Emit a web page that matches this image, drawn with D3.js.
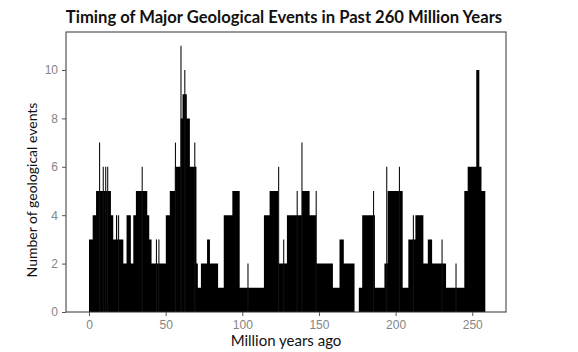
<!DOCTYPE html>
<html>
<head>
<meta charset="utf-8">
<script src="https://cdn.jsdelivr.net/npm/d3@7"></script>
<style>
  html, body { margin: 0; padding: 0; background: #fff; }
  svg { display: block; }
</style>
</head>
<body>
<div id="chart"></div>
<script>
// Step blocks: each block runs from its start age to the next start age
const blockStart = [0, 2.4, 4.6, 14.3, 15.8, 17.6, 18.4, 22.4, 24.5, 27.3, 28.9, 30.6, 38, 39.3, 40.8,
  50.1, 52.7, 56, 59.7, 61, 63.8, 65.8, 70.1, 71, 73, 77, 78.9, 84.2, 87.9, 93.5, 98.3,
  114.1, 117.8, 123.5, 129.1, 138.9, 143.9, 148.2, 159.1, 163.4, 166.2, 173.2, 176, 178.2,
  186.5, 192.7, 194.8, 204.6, 208.3, 212.9, 218.1, 221, 223.8, 232.9, 244.8, 247, 252.6,
  254.6, 256, 258.5];
const blockCount = [3, 4, 5, 4, 3, 4, 3, 2, 4, 2, 4, 5, 4, 3, 2,
  4, 5, 6, 8, 9, 8, 6, 2, 1, 2, 3, 2, 1, 4, 5, 1,
  4, 5, 2, 4, 5, 4, 2, 1, 3, 2, 0, 1, 4,
  1, 2, 5, 1, 3, 4, 2, 3, 2, 1, 5, 6, 10,
  6, 5, 0];

// Thin single-interval spikes
const spikeAge = [6.9, 9.3, 10.9, 12.2, 19.3, 34.7, 44, 45.6, 56.4, 60, 62.5, 69, 103.7, 123.7,
  127, 135.8, 138.9, 148.2, 185.6, 194.2, 202.5, 211.6, 230.3, 239.4];
const spikeCount = [7, 6, 6, 6, 4, 6, 3, 3, 7, 11, 10, 7, 2, 6,
  3, 5, 7, 5, 5, 6, 6, 4, 3, 2];

const xTicks = [0, 50, 100, 150, 200, 250];
const yTicks = [0, 2, 4, 6, 8, 10];

const width = 578;
const height = 352;
const box = { left: 66, right: 506, top: 32, bottom: 312 };

const svg = d3.select('#chart')
  .append('svg')
  .attr('width', width)
  .attr('height', height);

const x = d3.scaleLinear().domain([-15, 272]).range([box.left, box.right]);
const y = d3.scaleLinear().domain([0, 11.57]).range([box.bottom, box.top]);

// Bars as one stepped area
const blocks = blockStart.map((s, i) => ({ start: s, count: blockCount[i] }));

const area = d3.area()
  .x(d => x(d.start))
  .y0(y(0))
  .y1(d => y(d.count))
  .curve(d3.curveStepAfter);

svg.append('path')
  .datum(blocks)
  .attr('d', area)
  .attr('fill', '#000');

// Spikes
svg.append('g')
  .selectAll('line')
  .data(spikeAge.map((a, i) => ({ age: a, count: spikeCount[i] })))
  .enter()
  .append('line')
  .attr('x1', d => x(d.age))
  .attr('x2', d => x(d.age))
  .attr('y1', y(0))
  .attr('y2', d => y(d.count))
  .attr('stroke', '#111')
  .attr('stroke-width', 1.1);

// Frame
svg.append('rect')
  .attr('x', box.left)
  .attr('y', box.top)
  .attr('width', box.right - box.left)
  .attr('height', box.bottom - box.top)
  .attr('fill', 'none')
  .attr('stroke', '#333')
  .attr('stroke-width', 1);

// Axes
const xAxis = svg.append('g')
  .attr('transform', `translate(0, ${box.bottom})`)
  .call(d3.axisBottom(x).tickValues(xTicks).tickSize(4).tickPadding(4));

const yAxis = svg.append('g')
  .attr('transform', `translate(${box.left}, 0)`)
  .call(d3.axisLeft(y).tickValues(yTicks).tickSize(4).tickPadding(4));

[xAxis, yAxis].forEach(ax => {
  ax.select('.domain').remove();
  ax.selectAll('line').attr('stroke', '#555');
  ax.selectAll('text')
    .attr('fill', '#858585')
    .style('font-family', '"Liberation Sans", Arial, sans-serif')
    .style('font-size', '12px');
});

// Title and axis labels
svg.append('text')
  .attr('x', 284)
  .attr('y', 23)
  .attr('text-anchor', 'middle')
  .style('font-family', 'Lato, sans-serif')
  .style('font-weight', 'bold')
  .style('font-size', '16.6px')
  .attr('fill', '#111')
  .text('Timing of Major Geological Events in Past 260 Million Years');

svg.append('text')
  .attr('x', 286)
  .attr('y', 346)
  .attr('text-anchor', 'middle')
  .style('font-family', 'Lato, sans-serif')
  .style('font-size', '15px')
  .attr('fill', '#111')
  .text('Million years ago');

svg.append('text')
  .attr('transform', 'translate(37, 190) rotate(-90)')
  .attr('text-anchor', 'middle')
  .style('font-family', 'Lato, sans-serif')
  .style('font-size', '14px')
  .attr('fill', '#111')
  .text('Number of geological events');
</script>
</body>
</html>
